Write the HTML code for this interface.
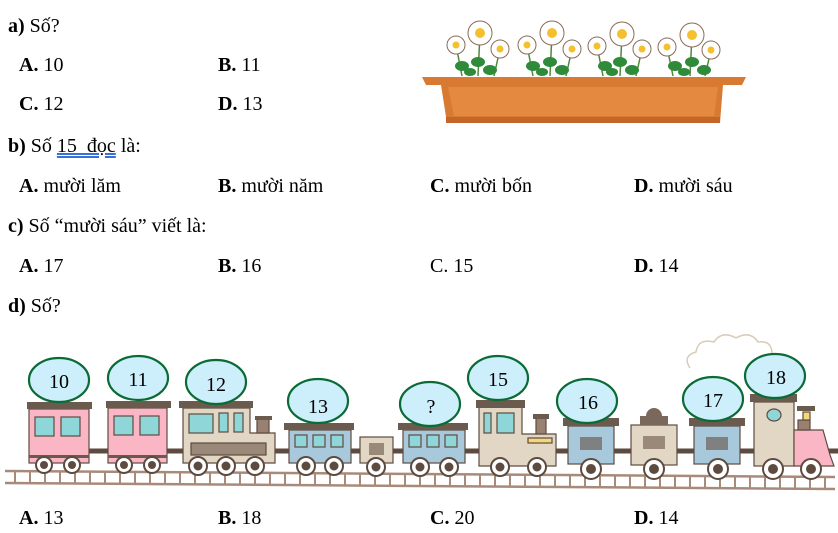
<!DOCTYPE html>
<html><head><meta charset="utf-8"><style>
body{margin:0;width:838px;height:533px;background:#fff;position:relative;overflow:hidden;font-family:"Liberation Serif",serif;font-size:20px;color:#000}
.t{position:absolute;line-height:20px;white-space:nowrap}
b{font-weight:bold}
.u{text-decoration:underline double #3a6fd8}
svg{position:absolute;left:0;top:0}
</style></head><body>
<svg width="838" height="533">
<!-- flower pot -->
<g>
<g stroke="#4f8a3a" stroke-width="1.5">
<path d="M456 45 L462 76 M480 33 L478 76 M500 49 L494 76 M527 45 L533 76 M552 33 L550 76 M572 49 L566 76 M597 46 L603 76 M622 34 L620 76 M642 49 L636 76 M667 47 L673 76 M692 35 L690 76 M711 50 L705 76"/>
</g>
<g fill="#2f8a3a">
<ellipse cx="462" cy="66" rx="7" ry="5"/><ellipse cx="478" cy="62" rx="7" ry="5"/><ellipse cx="490" cy="70" rx="7" ry="5"/><ellipse cx="470" cy="72" rx="6" ry="4"/>
<ellipse cx="533" cy="66" rx="7" ry="5"/><ellipse cx="550" cy="62" rx="7" ry="5"/><ellipse cx="562" cy="70" rx="7" ry="5"/><ellipse cx="542" cy="72" rx="6" ry="4"/>
<ellipse cx="605" cy="66" rx="7" ry="5"/><ellipse cx="620" cy="62" rx="7" ry="5"/><ellipse cx="632" cy="70" rx="7" ry="5"/><ellipse cx="612" cy="72" rx="6" ry="4"/>
<ellipse cx="675" cy="66" rx="7" ry="5"/><ellipse cx="692" cy="62" rx="7" ry="5"/><ellipse cx="704" cy="70" rx="7" ry="5"/><ellipse cx="684" cy="72" rx="6" ry="4"/>
</g>
<g fill="#fff" stroke="#8a6a5a" stroke-width="1">
<circle cx="456" cy="45" r="9"/><circle cx="480" cy="33" r="12"/><circle cx="500" cy="49" r="9"/>
<circle cx="527" cy="45" r="9"/><circle cx="552" cy="33" r="12"/><circle cx="572" cy="49" r="9"/>
<circle cx="597" cy="46" r="9"/><circle cx="622" cy="34" r="12"/><circle cx="642" cy="49" r="9"/>
<circle cx="667" cy="47" r="9"/><circle cx="692" cy="35" r="12"/><circle cx="711" cy="50" r="9"/>
</g>
<g fill="#f4c02e">
<circle cx="456" cy="45" r="3.5"/><circle cx="480" cy="33" r="5"/><circle cx="500" cy="49" r="3.5"/>
<circle cx="527" cy="45" r="3.5"/><circle cx="552" cy="33" r="5"/><circle cx="572" cy="49" r="3.5"/>
<circle cx="597" cy="46" r="3.5"/><circle cx="622" cy="34" r="5"/><circle cx="642" cy="49" r="3.5"/>
<circle cx="667" cy="47" r="3.5"/><circle cx="692" cy="35" r="5"/><circle cx="711" cy="50" r="3.5"/>
</g>
<path d="M422 77 H746 L742 85 H723 L720 123 H447 L441 85 H426 Z" fill="#d97a32"/>
<path d="M448 87 H718 L714 116 H454 Z" fill="#e38a40"/>
<rect x="446" y="117" width="274" height="6" fill="#c4652a"/>
</g>
<!-- smoke -->
<path d="M690 368 q-8 -12 6 -16 q2 -14 18 -10 q8 -12 22 -4 q14 -8 22 4 q14 -2 14 12" fill="none" stroke="#d9cbb8" stroke-width="1.5"/>
<!-- track -->
<g stroke="#a88a7a" stroke-width="2.5">
<path d="M5 471 L835 477 M5 483 L835 489" fill="none"/>
</g>
<g stroke="#a88a7a" stroke-width="2">
<path d="M15 471v12M30 471v12M45 471v12M60 471v12M75 471v12M90 472v12M105 472v12M120 472v12M135 472v12M150 472v12M165 472v12M180 472v12M195 472v12M210 473v12M225 473v12M240 473v12M255 473v12M270 473v12M285 473v12M300 473v12M315 473v12M330 474v12M345 474v12M360 474v12M375 474v12M390 474v12M405 474v12M420 474v12M435 475v12M450 475v12M465 475v12M480 475v12M495 475v12M510 475v12M525 475v12M540 476v12M555 476v12M570 476v12M585 476v12M600 476v12M615 476v12M630 476v12M645 476v12M660 476v12M675 477v12M690 477v12M705 477v12M720 477v12M735 477v12M750 477v12M765 477v12M780 477v12M795 478v12M810 478v12M825 478v12"/>
</g>
<!-- couplers -->
<path d="M80 451 H840" stroke="#5e4b40" stroke-width="5"/>
<!-- pink cars -->
<g stroke="#5e4b40" stroke-width="1.2">
<rect x="29" y="409" width="60" height="54" fill="#fbb6c6"/>
<rect x="108" y="408" width="59" height="55" fill="#fbb6c6"/>
<rect x="35" y="417" width="19" height="19" fill="#8fd6d8"/><rect x="61" y="417" width="19" height="19" fill="#8fd6d8"/>
<rect x="114" y="416" width="19" height="19" fill="#8fd6d8"/><rect x="140" y="416" width="19" height="19" fill="#8fd6d8"/>
</g>
<rect x="27" y="402" width="65" height="7" fill="#6b5a4e"/><rect x="106" y="401" width="65" height="7" fill="#6b5a4e"/>
<rect x="29" y="455" width="60" height="3" fill="#6b5a4e"/><rect x="108" y="455" width="59" height="3" fill="#6b5a4e"/>
<!-- loco 1 -->
<g stroke="#5e4b40" stroke-width="1.2">
<path d="M183 408 H250 V433 H275 V463 H183Z" fill="#e2d7c5"/>
<rect x="189" y="414" width="24" height="19" fill="#8fd6d8"/><rect x="219" y="413" width="9" height="19" fill="#8fd6d8"/><rect x="234" y="413" width="9" height="19" fill="#8fd6d8"/>
<rect x="191" y="443" width="75" height="12" fill="#9a8878"/>
<rect x="257" y="418" width="12" height="15" fill="#9a8070"/>
</g>
<rect x="179" y="401" width="74" height="7" fill="#6b5a4e"/><rect x="255" y="416" width="17" height="4" fill="#6b5a4e"/>
<!-- blue car 1, box, blue car 2 -->
<g stroke="#5e4b40" stroke-width="1.2">
<rect x="289" y="430" width="62" height="33" fill="#a8c8dc"/>
<rect x="295" y="435" width="12" height="12" fill="#8fd6d8"/><rect x="313" y="435" width="12" height="12" fill="#8fd6d8"/><rect x="331" y="435" width="12" height="12" fill="#8fd6d8"/>
<rect x="360" y="437" width="33" height="26" fill="#e2d7c5"/><rect x="369" y="443" width="15" height="12" fill="#9a8878" stroke="none"/>
<rect x="403" y="430" width="62" height="33" fill="#a8c8dc"/>
<rect x="409" y="435" width="12" height="12" fill="#8fd6d8"/><rect x="427" y="435" width="12" height="12" fill="#8fd6d8"/><rect x="445" y="435" width="12" height="12" fill="#8fd6d8"/>
</g>
<rect x="284" y="423" width="70" height="7" fill="#6b5a4e"/><rect x="398" y="423" width="70" height="7" fill="#6b5a4e"/>
<!-- loco 2 -->
<g stroke="#5e4b40" stroke-width="1.2">
<path d="M479 407 H522 V434 H556 V466 H479Z" fill="#e2d7c5"/>
<rect x="484" y="413" width="7" height="20" fill="#8fd6d8"/><rect x="497" y="413" width="17" height="20" fill="#8fd6d8"/>
<rect x="528" y="438" width="24" height="5" fill="#f4d77a"/>
<rect x="536" y="418" width="10" height="16" fill="#9a8070"/>
</g>
<rect x="476" y="400" width="49" height="8" fill="#6b5a4e"/><rect x="533" y="414" width="16" height="5" fill="#6b5a4e"/>
<!-- blue 3, beige, blue 4 -->
<g stroke="#5e4b40" stroke-width="1.2">
<rect x="568" y="426" width="46" height="38" fill="#a8c8dc"/>
<rect x="631" y="425" width="46" height="40" fill="#e2d7c5"/>
<rect x="694" y="426" width="46" height="38" fill="#a8c8dc"/>
</g>
<rect x="580" y="437" width="22" height="13" fill="#808080"/><rect x="643" y="436" width="22" height="13" fill="#9a8878"/><rect x="706" y="437" width="22" height="13" fill="#808080"/>
<rect x="563" y="418" width="56" height="8" fill="#6b5a4e"/><rect x="689" y="418" width="56" height="8" fill="#6b5a4e"/>
<rect x="640" y="416" width="28" height="9" fill="#7a685c"/><path d="M646 416 a8 8 0 0 1 16 0Z" fill="#7a685c"/>
<!-- loco 3 -->
<g stroke="#5e4b40" stroke-width="1.2">
<rect x="754" y="402" width="40" height="64" fill="#e2d7c5"/>
<path d="M794 430 H823 L830 455 L834 466 H794Z" fill="#fbb6c6"/>
<rect x="798" y="420" width="12" height="10" fill="#9a8070"/><rect x="803" y="412" width="7" height="8" fill="#f4d77a"/>
<ellipse cx="774" cy="415" rx="7" ry="6" fill="#8fd6d8"/>
</g>
<rect x="750" y="394" width="47" height="8" fill="#6b5a4e"/><rect x="797" y="406" width="18" height="5" fill="#6b5a4e"/>
<!-- wheels -->
<g fill="#fff" stroke="#5e4b40" stroke-width="2">
<circle cx="44" cy="465" r="8"/><circle cx="72" cy="465" r="8"/>
<circle cx="124" cy="465" r="8"/><circle cx="152" cy="465" r="8"/>
<circle cx="198" cy="466" r="9"/><circle cx="226" cy="466" r="9"/><circle cx="255" cy="466" r="9"/>
<circle cx="306" cy="466" r="9"/><circle cx="334" cy="466" r="9"/><circle cx="376" cy="467" r="9"/>
<circle cx="420" cy="467" r="9"/><circle cx="449" cy="467" r="9"/>
<circle cx="500" cy="467" r="9"/><circle cx="537" cy="467" r="9"/>
<circle cx="591" cy="469" r="10"/><circle cx="654" cy="469" r="10"/><circle cx="718" cy="469" r="10"/>
<circle cx="773" cy="469" r="10"/><circle cx="811" cy="469" r="10"/>
</g>
<g fill="#5e4b40">
<circle cx="44" cy="465" r="4"/><circle cx="72" cy="465" r="4"/><circle cx="124" cy="465" r="4"/><circle cx="152" cy="465" r="4"/>
<circle cx="198" cy="466" r="4.5"/><circle cx="226" cy="466" r="4.5"/><circle cx="255" cy="466" r="4.5"/>
<circle cx="306" cy="466" r="4.5"/><circle cx="334" cy="466" r="4.5"/><circle cx="376" cy="467" r="4.5"/>
<circle cx="420" cy="467" r="4.5"/><circle cx="449" cy="467" r="4.5"/><circle cx="500" cy="467" r="4.5"/><circle cx="537" cy="467" r="4.5"/>
<circle cx="591" cy="469" r="5"/><circle cx="654" cy="469" r="5"/><circle cx="718" cy="469" r="5"/><circle cx="773" cy="469" r="5"/><circle cx="811" cy="469" r="5"/>
</g>
<!-- ovals -->
<g fill="#cdeefb" stroke="#0b6b36" stroke-width="2.2">
<ellipse cx="59" cy="380" rx="30" ry="22"/><ellipse cx="138" cy="378" rx="30" ry="22"/><ellipse cx="216" cy="382" rx="30" ry="22"/>
<ellipse cx="318" cy="401" rx="30" ry="22"/><ellipse cx="430" cy="404" rx="30" ry="22"/><ellipse cx="498" cy="378" rx="30" ry="22"/>
<ellipse cx="587" cy="401" rx="30" ry="22"/><ellipse cx="713" cy="399" rx="30" ry="22"/><ellipse cx="775" cy="376" rx="30" ry="22"/>
</g>
<g font-family="Liberation Serif, serif" font-size="20" text-anchor="middle" fill="#000">
<text x="59" y="388">10</text><text x="138" y="386">11</text><text x="216" y="391">12</text>
<text x="318" y="413">13</text><text x="431" y="413">?</text><text x="498" y="386">15</text>
<text x="588" y="409">16</text><text x="713" y="407">17</text><text x="776" y="384">18</text>
</g>
</svg>
<div class="t" style="left:8px;top:16px"><b>a)</b> Số?</div>
<div class="t" style="left:19px;top:55px"><b>A.</b> 10</div>
<div class="t" style="left:218px;top:55px"><b>B.</b> 11</div>
<div class="t" style="left:19px;top:94px"><b>C.</b> 12</div>
<div class="t" style="left:218px;top:94px"><b>D.</b> 13</div>
<div class="t" style="left:8px;top:136px"><b>b)</b> Số <span class="u">15 &nbsp;đọc</span> là:</div>
<div class="t" style="left:19px;top:176px"><b>A.</b> mười lăm</div>
<div class="t" style="left:218px;top:176px"><b>B.</b> mười năm</div>
<div class="t" style="left:430px;top:176px"><b>C.</b> mười bốn</div>
<div class="t" style="left:634px;top:176px"><b>D.</b> mười sáu</div>
<div class="t" style="left:8px;top:216px"><b>c)</b> Số “mười sáu” viết là:</div>
<div class="t" style="left:19px;top:256px"><b>A.</b> 17</div>
<div class="t" style="left:218px;top:256px"><b>B.</b> 16</div>
<div class="t" style="left:430px;top:256px">C. 15</div>
<div class="t" style="left:634px;top:256px"><b>D.</b> 14</div>
<div class="t" style="left:8px;top:296px"><b>d)</b> Số?</div>
<div class="t" style="left:19px;top:508px"><b>A.</b> 13</div>
<div class="t" style="left:218px;top:508px"><b>B.</b> 18</div>
<div class="t" style="left:430px;top:508px"><b>C.</b> 20</div>
<div class="t" style="left:634px;top:508px"><b>D.</b> 14</div>
</body></html>
